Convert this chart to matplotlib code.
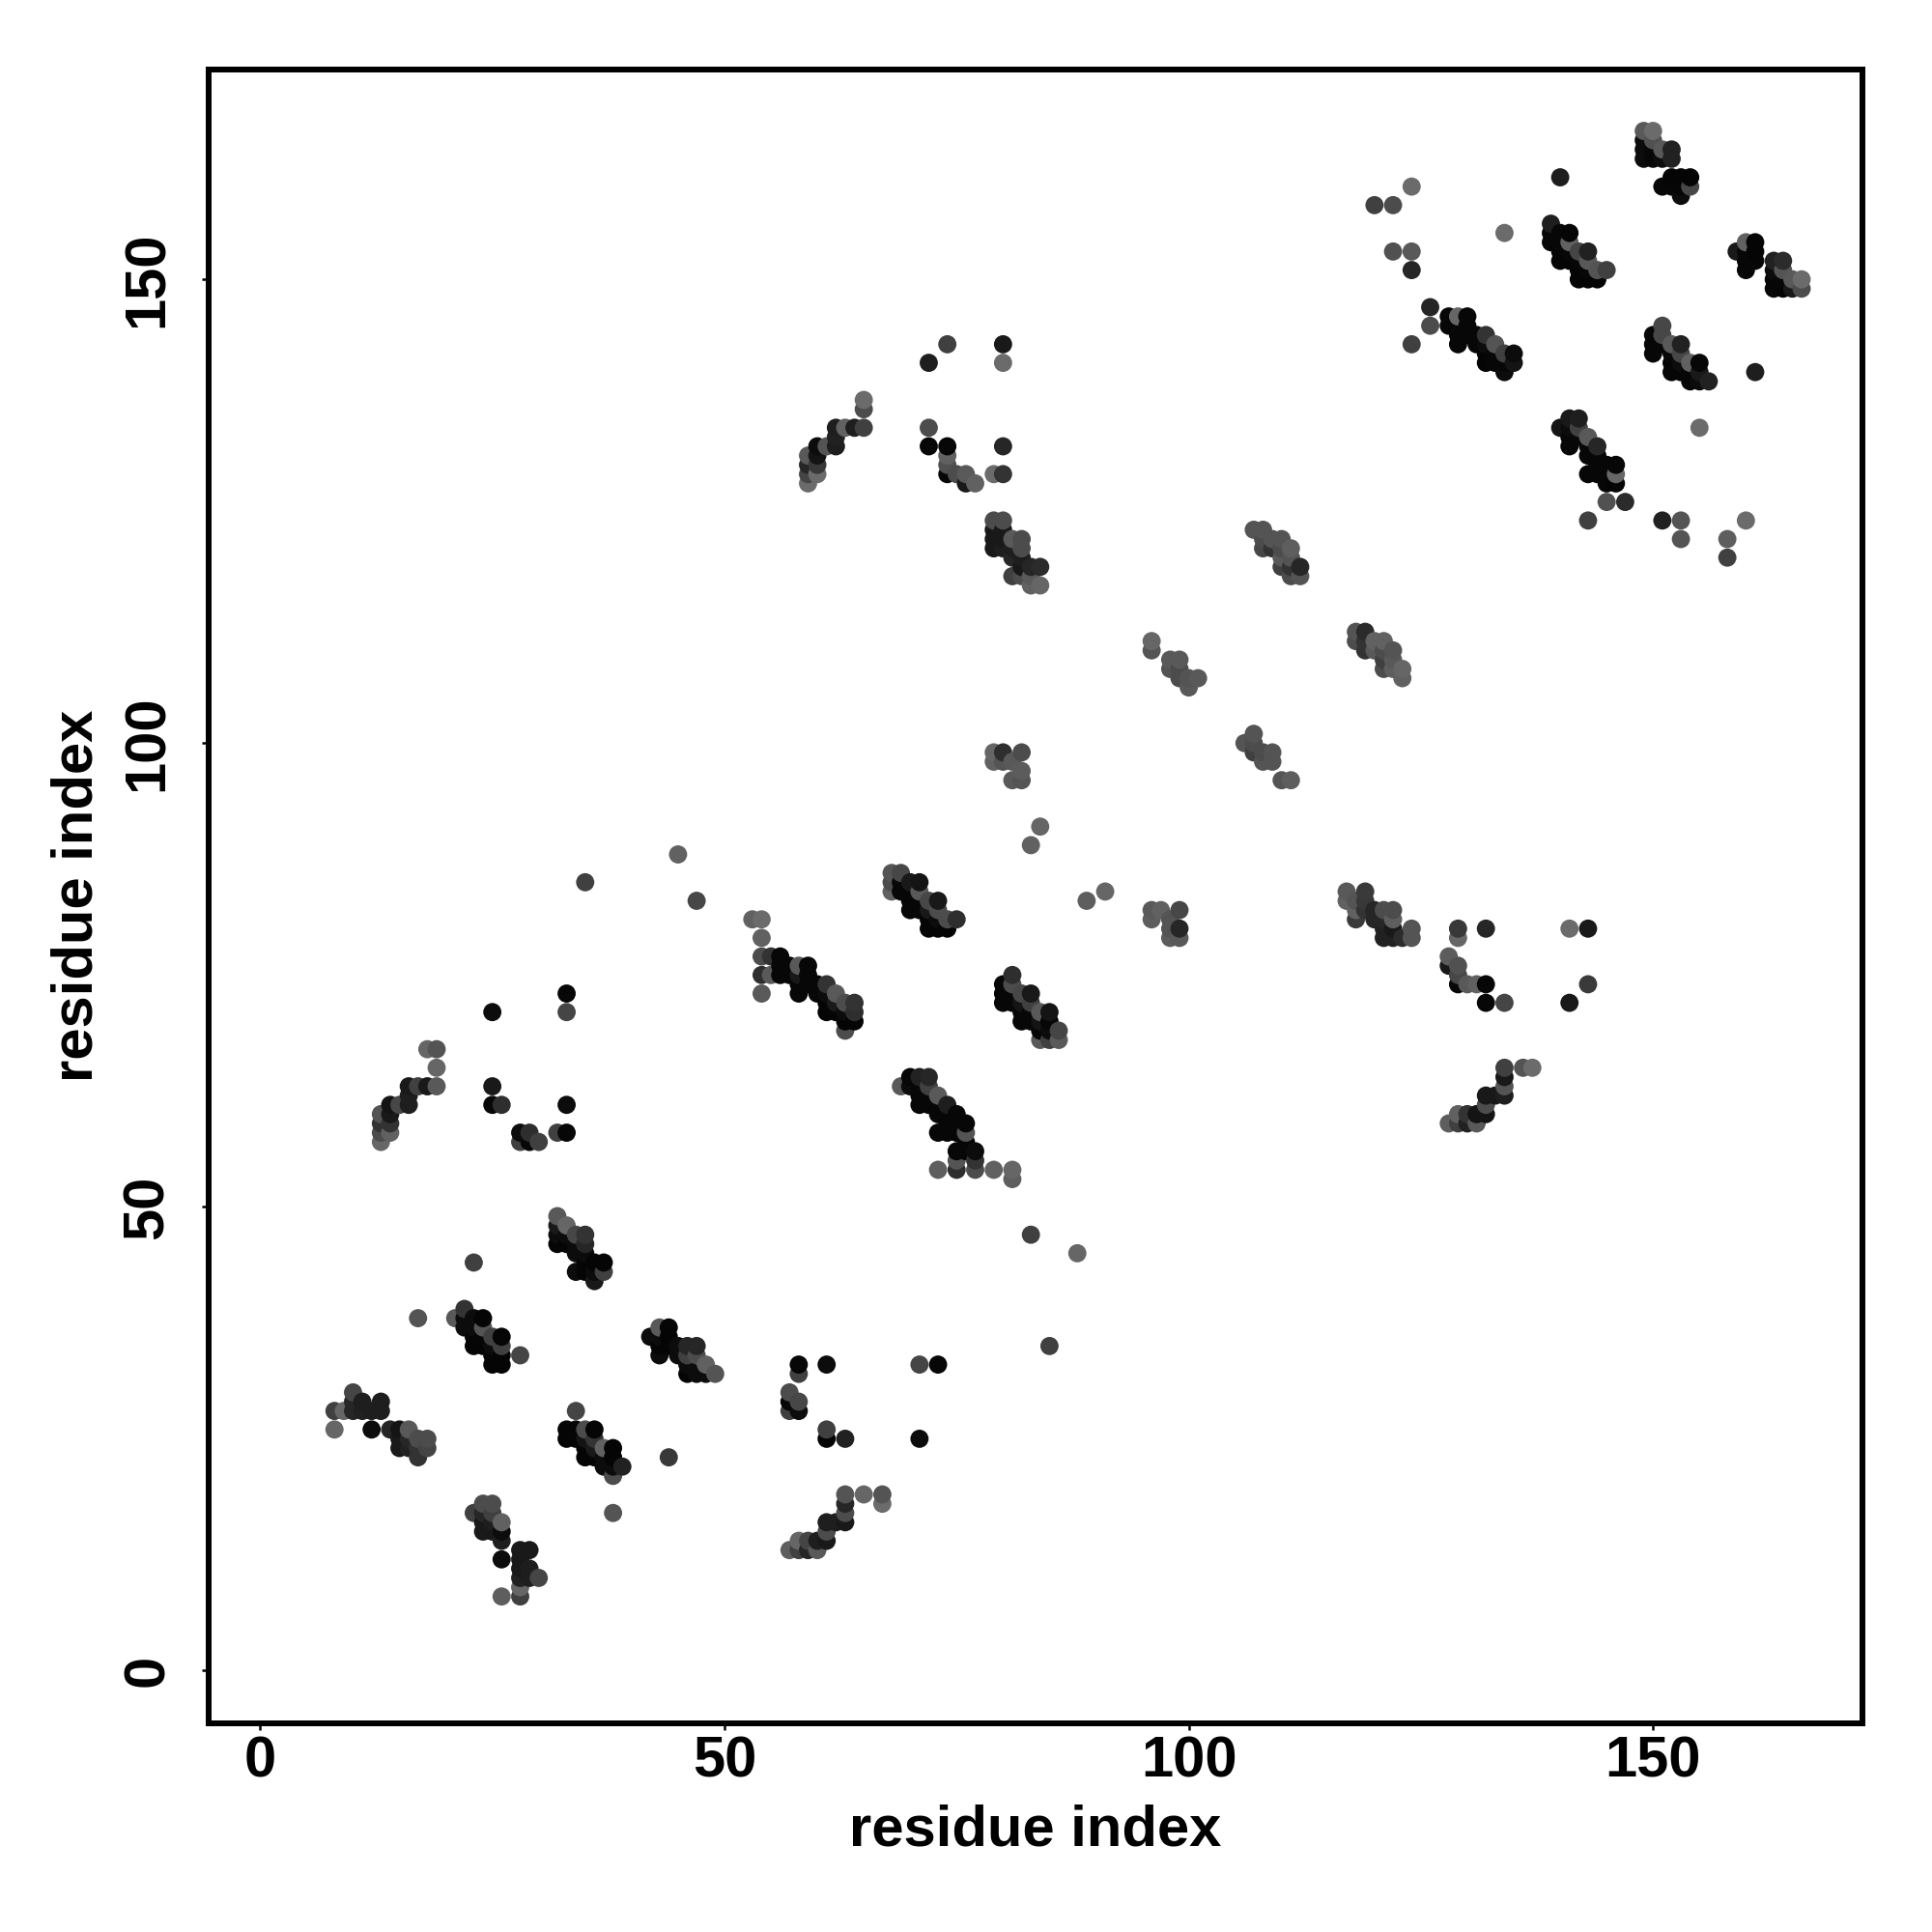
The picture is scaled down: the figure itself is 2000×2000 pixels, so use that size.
import numpy as np
import matplotlib
matplotlib.use("Agg")
import matplotlib.pyplot as plt

plt.rcParams['font.family'] = ['Liberation Sans', 'DejaVu Sans']

# contacts as (residue i, residue j, grey level)
c_lower_left = [(8,28,.25),(9,28,.4),(8,26,.4),(10,30,.27),(10,29,.15),(10,28,.15),(11,29,.12),(11,28,.13),(12,28,.12),(12,26,.05),
    (13,29,.12),(13,28,.12),(14,26,.15),(15,26,.08),(15,25,.1),(15,24,.1),(16,26,.35),(16,25,.15),(16,24,.13),(17,25,.3),(17,24,.2),
    (17,23,.2),(18,25,.3),(18,24,.27)]
c_21_26 = [(21,38,.35),(22,39,.2),(22,38,.05),(22,37,.05),(23,38,.05),(23,37,.05),(23,36,.02),(23,35,.02),(24,38,.02),(24,37,.33),
    (24,36,.02),(24,35,.02),(25,36,.25),(25,35,.05),(25,34,.02),(25,33,.02),(26,36,.02),(26,35,.25),(26,34,.02),(26,33,.02),(28,34,.27),
    (23,44,.25),(17,38,.33)]
c_32_37 = [(32,49,.35),(32,48,.1),(32,47,.05),(32,46,.02),(33,48,.4),(33,47,.05),(33,46,.02),(34,47,.28),(34,46,.05),(34,45,.05),
    (34,43,.05),(35,47,.2),(35,46,.15),(35,45,.05),(35,44,.02),(35,43,.02),(36,44,.02),(36,43,.05),(36,42,.1),(37,44,.02),(37,43,.25)]
c_33_39 = [(34,28,.27),(33,26,.02),(33,25,.02),(34,26,.02),(34,25,.02),(35,26,.3),(35,25,.08),(35,24,.02),(35,23,.02),(36,26,.02),
    (36,25,.2),(36,24,.1),(36,23,.02),(37,24,.38),(37,23,.05),(37,22,.05),(38,24,.02),(38,23,.02),(38,22,.05),(38,21,.3),(39,22,.13),
    (44,23,.22),(38,17,.33)]
c_23_30 = [(23,17,.25),(24,18,.3),(25,18,.3),(24,17,.15),(24,16,.1),(24,15,.1),(25,17,.25),(25,16,.12),(25,15,.1),(26,16,.38),
    (26,15,.05),(26,14,.12),(26,12,.05),(26,8,.37),(28,13,.1),(28,12,.1),(28,11,.1),(28,10,.13),(28,9,.4),(28,8,.25),(29,13,.1),
    (29,11,.12),(29,10,.12),(30,10,.27)]
c_42_49 = [(42,36,.05),(43,37,.35),(44,37,.02),(43,36,.05),(44,36,.02),(43,35,.02),(43,34,.05),(44,35,.02),(45,35,.05),(46,35,.15),
    (47,35,.15),(46,34,.25),(47,34,.3),(45,34,.05),(46,33,.05),(48,33,.38),(46,32,.02),(47,32,.05),(48,32,.05),(49,32,.33)]
c_13_33 = [(33,73,.03),(33,71,.27),(25,71,.05),(18,67,.4),(19,67,.33),(19,65,.4),(19,63,.35),(18,63,.1),(17,63,.25),(16,63,.1),
    (16,62,.12),(16,61,.12),(15,61,.28),(14,61,.08),(14,60,.1),(13,60,.33),(13,59,.2),(13,58,.3),(13,57,.4),(14,59,.2),(14,58,.38),
    (25,63,.1),(25,61,.03),(26,61,.18),(33,61,.05),(28,58,.05),(28,57,.25),(29,58,.18),(29,57,.03),(30,57,.25),(32,58,.25),(33,58,.03),
    (45,88,.38),(35,85,.25),(47,83,.28)]
c_53_64 = [(53,81,.38),(54,81,.42),(54,79,.38),(54,77,.3),(55,77,.2),(56,77,.03),(54,75,.18),(55,75,.35),(54,73,.35),(56,76,.03),
    (56,75,.03),(57,76,.03),(57,75,.03),(58,76,.35),(58,75,.1),(58,74,.03),(58,73,.03),(59,76,.03),(59,75,.03),(59,74,.03),(60,74,.03),
    (60,73,.03),(61,74,.2),(61,73,.05),(61,72,.02),(61,71,.02),(62,73,.35),(62,72,.1),(62,71,.02),(63,72,.3),(63,71,.05),(63,70,.02),
    (63,69,.3),(64,72,.2),(64,71,.18),(64,70,.02)]
c_68_75 = [(68,86,.33),(68,85,.3),(68,84,.38),(69,86,.28),(69,85,.03),(69,84,.03),(70,85,.1),(70,84,.03),(70,83,.03),(70,82,.03),
    (71,85,.08),(71,84,.35),(71,83,.03),(71,82,.03),(72,83,.28),(72,82,.1),(72,81,.02),(72,80,.02),(73,83,.1),(73,82,.3),(73,81,.05),
    (73,80,.02),(74,81,.3),(74,80,.02),(75,81,.18)]
c_69_81 = [(69,63,.35),(70,64,.03),(70,63,.05),(71,64,.13),(71,63,.03),(71,62,.03),(71,61,.03),(72,64,.15),(72,63,.25),(72,62,.03),
    (72,61,.03),(73,62,.35),(73,61,.03),(73,60,.03),(73,58,.03),(74,61,.12),(74,60,.03),(74,59,.03),(74,58,.03),(75,60,.03),(75,59,.03),
    (75,58,.03),(75,56,.03),(75,55,.33),(75,54,.18),(76,59,.03),(76,58,.33),(76,57,.03),(76,56,.03),(77,56,.05),(77,55,.2),(77,54,.3),
    (73,54,.37),(79,54,.38),(81,54,.4),(81,53,.37),(83,47,.25),(88,45,.4),(85,35,.25)]
c_80_86 = [(81,75,.18),(80,74,.03),(80,73,.03),(80,72,.03),(81,74,.3),(81,73,.03),(81,72,.03),(82,73,.28),(82,72,.08),(82,71,.03),
    (82,70,.03),(83,73,.1),(83,72,.25),(83,71,.03),(83,70,.03),(84,71,.35),(84,70,.08),(84,69,.03),(84,68,.35),(85,71,.08),(85,70,.03),
    (85,69,.05),(85,68,.25),(86,69,.27),(86,68,.35),(84,91,.4),(83,89,.38),(89,83,.37),(91,84,.4)]
c_96_99 = [(96,82,.35),(97,82,.38),(96,81,.37),(98,81,.33),(99,82,.28),(99,80,.15),(98,80,.33),(98,79,.36),(99,79,.35)]
c_57_73 = [(58,33,.03),(58,32,.25),(61,33,.05),(71,33,.27),(73,33,.03),(57,30,.3),(57,29,.03),(57,28,.25),(58,29,.28),(58,28,.05),
    (61,26,.25),(61,25,.02),(63,25,.13),(71,25,.05),(63,19,.33),(63,18,.15),(63,17,.3),(63,16,.1),(62,16,.12),(61,16,.12),(61,15,.3),
    (61,14,.1),(60,14,.12),(60,13,.35),(59,14,.27),(59,13,.15),(58,14,.4),(58,13,.25),(57,13,.37),(65,19,.4),(67,19,.33),(67,18,.42)]
c_59_80 = [(74,143,.25),(72,141,.12),(80,143,.1),(80,141,.42),(65,137,.42),(65,136,.3),(65,134,.25),(64,134,.12),(63,134,.38),
    (62,134,.12),(62,133,.13),(62,132,.12),(61,132,.33),(60,132,.05),(60,131,.08),(59,131,.35),(59,130,.15),(59,129,.27),(59,128,.42),
    (60,130,.22),(60,129,.42),(72,134,.3),(72,132,.03),(74,132,.03),(74,131,.38),(74,130,.32),(74,129,.03),(75,129,.3),(76,129,.35),
    (76,128,.1),(77,128,.38),(79,129,.42),(80,129,.2),(80,132,.15)]
c_79_84 = [(79,124,.3),(80,124,.3),(79,123,.1),(79,122,.1),(79,121,.1),(80,123,.1),(80,122,.1),(80,121,.12),(81,122,.35),(82,122,.3),
    (82,121,.3),(81,121,.12),(81,120,.15),(82,120,.12),(82,119,.1),(83,119,.15),(84,119,.17),(81,118,.25),(82,118,.3),(83,118,.35),
    (83,117,.38),(84,117,.4),(79,99,.4),(79,98,.38),(80,99,.18),(82,99,.3),(81,98,.35),(80,98,.33),(82,97,.36),(81,96,.35),(82,96,.33)]
c_96_112 = [(96,111,.4),(96,110,.33),(98,109,.35),(99,109,.35),(98,108,.33),(99,108,.3),(99,107,.3),(100,107,.33),(101,107,.35),
    (100,106,.35),(107,101,.33),(106,100,.33),(107,100,.3),(107,99,.25),(108,99,.3),(109,99,.33),(108,98,.33),(109,98,.33),(110,96,.33),
    (111,96,.37),(107,123,.33),(108,123,.33),(108,122,.3),(108,121,.28),(109,122,.33),(110,122,.33),(109,121,.2),(110,121,.3),
    (111,121,.37),(110,120,.35),(110,119,.25),(111,120,.33),(111,119,.2),(112,119,.15),(111,118,.3),(112,118,.33)]
c_118_123 = [(118,112,.33),(118,111,.3),(119,112,.17),(119,111,.2),(119,110,.2),(120,111,.38),(121,111,.38),(120,110,.35),(121,110,.3),
    (122,110,.33),(121,109,.25),(121,108,.3),(122,109,.35),(122,108,.37),(123,108,.4),(123,107,.38)]
c_117_124 = [(117,84,.35),(117,83,.38),(119,84,.23),(119,83,.22),(118,83,.33),(118,82,.38),(118,81,.23),(119,82,.2),(120,82,.15),
    (120,81,.15),(121,82,.3),(122,82,.3),(122,81,.37),(121,81,.15),(121,80,.13),(121,79,.13),(122,80,.1),(122,79,.13),(123,79,.17),
    (124,80,.33),(124,79,.33)]
c_128_143 = [(129,80,.22),(129,79,.4),(132,80,.15),(128,77,.36),(128,76,.1),(129,76,.32),(129,75,.28),(129,74,.03),(130,74,.35),
    (131,74,.38),(132,74,.03),(132,72,.03),(134,72,.27),(141,80,.42),(141,72,.1),(143,80,.1),(143,74,.23),(134,65,.25),(134,64,.1),
    (134,63,.33),(134,62,.12),(133,62,.1),(132,62,.1),(132,61,.3),(132,60,.08),(131,60,.08),(131,59,.35),(130,60,.2),(130,59,.13),
    (129,60,.38),(129,59,.25),(128,59,.37),(136,65,.33),(137,65,.42)]
c_120_136 = [(124,160,.42),(120,158,.25),(122,158,.3),(134,155,.42),(122,153,.32),(124,153,.35),(124,151,.15),(126,147,.15),(126,145,.3),
    (124,143,.25),(128,146,.03),(128,145,.03),(129,146,.4),(129,145,.03),(129,144,.03),(129,143,.03),(130,146,.03),(130,145,.03),
    (130,144,.03),(131,144,.03),(131,143,.03),(132,144,.2),(132,143,.05),(132,142,.02),(132,141,.02),(133,143,.33),(133,142,.03),
    (133,141,.03),(134,142,.25),(134,141,.03),(134,140,.05),(135,142,.05),(135,141,.08)]
c_139_145 = [(139,156,.12),(139,155,.03),(139,154,.03),(140,161,.12),(140,155,.03),(140,154,.03),(140,153,.02),(140,152,.02),(141,155,.02),
    (141,154,.38),(141,153,.03),(141,152,.02),(142,153,.27),(142,152,.03),(142,151,.02),(142,150,.02),(143,153,.13),(143,152,.35),
    (143,151,.03),(143,150,.02),(144,151,.33),(144,150,.02),(145,151,.25)]
c_149_154 = [(149,166,.35),(150,166,.42),(149,165,.05),(149,164,.05),(149,163,.05),(150,165,.32),(150,164,.03),(150,163,.03),(151,164,.35),
    (151,163,.05),(152,164,.13),(152,163,.13),(151,160,.03),(152,161,.02),(152,160,.03),(153,161,.02),(153,160,.02),(153,159,.05),
    (154,161,.02),(154,160,.28)]
c_159_166 = [(159,153,.1),(160,154,.38),(160,153,.03),(160,152,.03),(160,151,.03),(161,154,.02),(161,153,.02),(161,152,.03),(163,152,.13),
    (163,151,.05),(163,150,.03),(163,149,.03),(164,152,.17),(164,151,.33),(164,150,.03),(164,149,.02),(165,150,.35),(165,149,.1),
    (166,150,.42),(166,149,.3)]
c_150_161 = [(150,144,.03),(150,143,.03),(150,142,.03),(151,145,.28),(151,144,.28),(151,143,.03),(152,143,.35),(152,142,.03),(152,141,.02),
    (152,140,.02),(153,143,.13),(153,142,.28),(153,141,.05),(153,140,.02),(154,141,.38),(154,140,.03),(154,139,.03),(155,141,.03),
    (155,140,.1),(155,139,.05),(156,139,.13),(161,140,.12)]
c_140_160 = [(140,134,.08),(141,135,.1),(142,135,.12),(141,134,.05),(141,133,.03),(141,132,.03),(142,134,.25),(142,133,.03),(143,133,.35),
    (143,132,.03),(143,131,.03),(144,132,.15),(144,131,.03),(144,130,.03),(143,129,.03),(144,129,.03),(145,130,.03),(145,129,.03),
    (145,128,.03),(146,130,.03),(146,129,.4),(146,128,.02),(145,126,.32),(147,126,.17),(143,124,.25),(151,124,.13),(153,124,.33),
    (153,122,.33),(160,124,.42),(158,122,.37),(158,120,.25),(155,134,.42)]

clusters = [c_lower_left, c_21_26, c_32_37, c_33_39, c_23_30, c_42_49, c_13_33, c_53_64, c_68_75, c_69_81, c_80_86, c_96_99,
            c_57_73, c_59_80, c_79_84, c_96_112, c_118_123, c_117_124, c_128_143, c_120_136, c_139_145, c_149_154, c_159_166,
            c_150_161, c_140_160]
axis_ticks = [0, 50, 100, 150]

contacts = np.array([p for c in clusters for p in c])
# original draws column by column, bottom to top
order = np.lexsort((contacts[:, 1], contacts[:, 0]))
contacts = contacts[order]

fig = plt.figure(figsize=(10, 10), dpi=200)
ax = fig.add_axes([216 / 2000, 1 - 1784 / 2000, (1928 - 216) / 2000, (1784 - 71.5) / 2000])
ax.scatter(contacts[:, 0], contacts[:, 1], c=contacts[:, 2], cmap='gray', vmin=0, vmax=1, s=46, linewidths=0)

ax.set_xlim(-5.55, 172.55)
ax.set_ylim(-5.68, 172.67)
ax.set_xticks(axis_ticks)
ax.set_yticks(axis_ticks)
for s in ax.spines.values():
    s.set_linewidth(2.15)
ax.tick_params(length=2.6, width=0.9, labelsize=21.5)
ax.tick_params(axis='x', pad=2)
ax.tick_params(axis='y', pad=10)
for t in ax.get_xticklabels() + ax.get_yticklabels():
    t.set_fontweight('bold')
for t in ax.get_yticklabels():
    t.set_rotation(90)
    t.set_rotation_mode('anchor')
    t.set_ha('center')
    t.set_va('bottom')
ax.set_xlabel("residue index", fontsize=21.5, fontweight='bold', labelpad=5.7)
ax.set_ylabel("residue index", fontsize=21.5, fontweight='bold', labelpad=6.7)

fig.savefig("out.png", dpi=200)
